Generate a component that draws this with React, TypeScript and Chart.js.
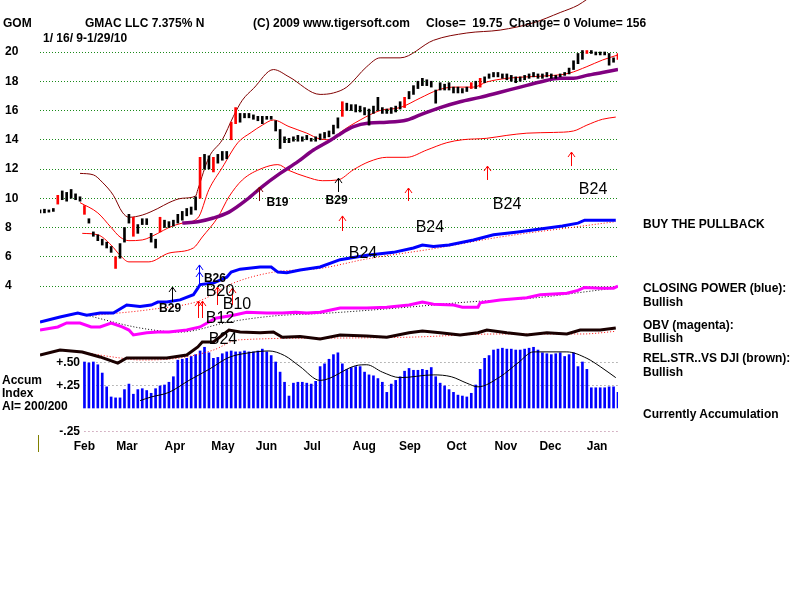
import React, { useEffect, useRef } from "react";
import { Chart, registerables } from "chart.js";

Chart.register(...registerables);

// ---------- data ----------
const BAR_STEP = 2; // trading days per drawn price bar
const LAST_DAY = 260;

const priceHigh = [
  9.2, 9.25, 9.2, 9.3, 10.2, 10.5, 10.4, 10.6, 10.3, 10.1,
  9.5, 8.6, 7.7, 7.5, 7.2, 7.0, 6.7, 6.0, 6.9, 8.0,
  8.9, 8.7, 8.2, 8.6, 8.6, 7.6, 7.2, 8.7, 8.5, 8.4,
  8.5, 8.9, 9.1, 9.3, 9.4, 10.1, 12.8, 13.0, 12.9, 12.8,
  13.0, 13.2, 13.2, 15.2, 16.2, 15.8, 15.8, 15.8, 15.7, 15.6,
  15.6, 15.6, 15.6, 15.3, 14.7, 14.2, 14.1, 14.2, 14.3, 14.2,
  14.3, 14.1, 14.2, 14.4, 14.5, 14.6, 15.0, 15.5, 16.6, 16.5,
  16.4, 16.4, 16.3, 16.2, 16.1, 16.3, 16.9, 16.2, 16.1, 16.2,
  16.3, 16.6, 16.9, 17.3, 17.7, 18.0, 18.2, 18.1, 18.0, 17.4,
  17.9, 17.8, 17.9, 17.6, 17.6, 17.5, 17.6, 17.9, 18.0, 18.2,
  18.3, 18.5, 18.6, 18.6, 18.5, 18.5, 18.4, 18.3, 18.3, 18.4,
  18.5, 18.6, 18.5, 18.5, 18.6, 18.5, 18.4, 18.5, 18.6, 18.9,
  19.4, 19.9, 20.1, 20.1, 20.1, 20.0, 20.0, 20.0, 19.9, 19.6,
  19.9,
];
const priceLow = [
  9.0, 9.0, 9.05, 9.1, 9.6, 9.9, 9.8, 10.0, 9.9, 9.8,
  8.9, 8.3, 7.4, 7.1, 6.8, 6.6, 6.3, 5.2, 5.9, 7.0,
  8.3, 7.4, 7.6, 8.2, 8.2, 7.0, 6.6, 7.7, 8.0, 8.0,
  8.1, 8.3, 8.5, 8.8, 8.9, 9.2, 10.0, 12.0, 12.0, 11.8,
  12.4, 12.6, 12.7, 14.0, 15.1, 15.2, 15.5, 15.5, 15.4, 15.3,
  15.1, 15.4, 15.4, 14.6, 13.4, 13.8, 13.8, 13.9, 13.9, 13.9,
  14.0, 13.9, 13.9, 14.0, 14.1, 14.2, 14.4, 14.8, 15.6, 16.0,
  16.0, 15.9, 15.9, 15.7, 15.0, 15.8, 16.0, 15.8, 15.8, 15.8,
  15.9, 16.1, 16.2, 16.8, 17.1, 17.5, 17.7, 17.7, 17.6, 16.5,
  17.4, 17.4, 17.4, 17.2, 17.2, 17.2, 17.3, 17.5, 17.5, 17.6,
  17.9, 18.2, 18.3, 18.3, 18.2, 18.1, 18.0, 17.9, 18.0, 18.1,
  18.2, 18.3, 18.2, 18.2, 18.3, 18.2, 18.2, 18.3, 18.4, 18.5,
  18.8, 19.2, 19.5, 19.9, 19.9, 19.8, 19.8, 19.8, 19.1, 19.3,
  19.5,
];
const redBarIdx = [4, 10, 17, 21, 27, 36, 39, 43, 44, 68, 82, 97, 99, 123, 130];

const AI_START = 10; // first price-bar index that has an accumulation value
const aiValues = [
  0.50, 0.49, 0.50, 0.47, 0.38, 0.23, 0.12, 0.11, 0.11, 0.20,
  0.26, 0.15, 0.20, 0.21, 0.19, 0.16, 0.21, 0.24, 0.25, 0.28,
  0.34, 0.52, 0.53, 0.54, 0.56, 0.58, 0.62, 0.66, 0.60, 0.54,
  0.55, 0.59, 0.61, 0.62, 0.61, 0.61, 0.62, 0.61, 0.61, 0.62,
  0.64, 0.61, 0.57, 0.50, 0.39, 0.28, 0.13, 0.27, 0.28, 0.28,
  0.27, 0.26, 0.29, 0.45, 0.48, 0.53, 0.58, 0.60, 0.48, 0.42,
  0.44, 0.45, 0.45, 0.39, 0.36, 0.35, 0.32, 0.28, 0.17, 0.26,
  0.30, 0.34, 0.40, 0.43, 0.41, 0.41, 0.42, 0.41, 0.44, 0.34,
  0.27, 0.24, 0.20, 0.17, 0.14, 0.13, 0.12, 0.16, 0.25, 0.42,
  0.54, 0.57, 0.63, 0.64, 0.65, 0.64, 0.64, 0.63, 0.63, 0.64,
  0.65, 0.66, 0.63, 0.60, 0.59, 0.58, 0.59, 0.60, 0.56, 0.58,
  0.60, 0.45, 0.50, 0.42, 0.22, 0.22, 0.22, 0.22, 0.23, 0.23,
  0.17,
];

// [trading day, value]
const upperBand = [[18,11.7],[24,11.6],[28,11.1],[33,10.2],[37,9.05],[40,8.7],[46,8.85],[53,9.3],[58,9.7],[64,10.0],[70,10.15],[71,10.6],[76,12.8],[82,14.0],[87,15.6],[91,16.7],[96,17.5],[105,18.8],[112,18.3],[126,17.1],[132,17.2],[138,17.6],[147,19.0],[153,19.6],[162,19.6],[177,20.8],[192,21.3],[207,21.5],[222,22.0],[234,22.7],[242,23.2],[246,23.6]];
const midBand = [[18,9.7],[26,9.0],[32,8.0],[36,7.35],[40,7.1],[46,7.15],[53,7.6],[58,8.0],[64,8.3],[71,8.65],[76,10.6],[82,12.1],[89,13.8],[95,14.5],[100,15.0],[105,15.35],[112,14.9],[120,14.45],[126,14.05],[131,14.0],[135,14.5],[144,15.35],[153,16.0],[162,16.2],[171,16.85],[179,17.4],[186,17.6],[195,17.6],[201,17.95],[210,18.2],[219,18.3],[231,18.4],[238,18.55],[246,19.0],[253,19.45],[260,19.8]];
const lowerBand = [[19,7.6],[26,7.5],[32,6.8],[36,6.1],[40,5.65],[49,5.65],[58,6.25],[69,6.6],[73,7.35],[80,8.7],[85,10.1],[91,11.25],[100,12.05],[107,12.3],[112,11.9],[120,11.45],[127,11.2],[134,11.25],[141,11.95],[148,12.5],[156,12.8],[165,12.8],[174,13.3],[183,13.8],[190,14.0],[201,14.1],[210,14.3],[219,14.45],[231,14.5],[240,14.6],[246,15.0],[253,15.4],[259,15.55]];
const ma50 = [[64,8.3],[71,8.4],[78,8.65],[85,9.05],[93,9.9],[100,10.8],[108,11.7],[116,12.5],[123,13.3],[131,14.0],[134,14.3],[141,14.9],[148,15.15],[156,15.2],[165,15.35],[171,15.7],[180,16.2],[189,16.6],[198,16.9],[207,17.25],[216,17.6],[225,17.95],[234,18.2],[240,18.2],[246,18.4],[253,18.6],[260,18.8]];
const closingPower = [[0,1.54],[9,1.88],[17,2.15],[21,2.0],[27,2.15],[33,2.15],[39,2.7],[45,2.6],[50,2.7],[53,2.9],[57,2.9],[63,3.05],[69,3.4],[71,3.85],[72,4.1],[78,4.2],[84,4.6],[86,4.95],[90,5.15],[99,5.3],[104,5.3],[107,4.95],[111,4.9],[117,5.1],[126,5.3],[135,5.8],[147,6.1],[159,6.3],[168,6.6],[172,6.8],[177,6.7],[184,6.8],[195,7.15],[204,7.5],[215,7.7],[225,7.9],[235,8.1],[242,8.3],[245,8.5],[253,8.5],[259,8.5]];
const cpAvg = [[25,2.0],[50,2.4],[72,3.0],[87,4.2],[105,4.95],[126,5.2],[147,5.85],[177,6.55],[207,7.35],[244,8.1],[259,8.4]];
const obv = [[0,0.99],[8,1.2],[12,1.47],[18,1.47],[23,1.2],[27,1.2],[32,1.47],[37,1.2],[40,0.99],[42,0.65],[48,0.8],[53,0.85],[58,0.85],[66,0.99],[72,1.2],[79,1.8],[87,2.0],[93,2.2],[102,2.15],[109,2.15],[115,2.2],[120,2.15],[126,2.2],[135,2.5],[147,2.5],[156,2.55],[166,2.7],[172,2.9],[177,2.75],[186,2.7],[190,2.55],[197,2.55],[198,2.85],[207,3.05],[219,3.2],[225,3.4],[237,3.5],[242,3.7],[245,3.9],[252,3.85],[258,3.85],[260,4.0]];
const obvAvg = [[21,2.0],[45,1.13],[63,0.85],[85,1.54],[105,1.95],[130,2.15],[166,2.56],[192,2.9],[222,3.18],[252,3.73],[259,3.86]];
const relStr = [[0,-0.72],[9,-0.38],[19,-0.51],[27,-0.85],[35,-1.27],[39,-0.92],[49,-0.92],[57,-0.92],[66,-0.72],[71,-0.17],[73,0.17],[78,0.17],[85,0.99],[90,0.85],[99,0.8],[105,0.85],[109,0.5],[117,0.55],[126,0.38],[135,0.65],[147,0.58],[156,0.5],[166,0.8],[172,0.92],[180,0.8],[189,0.65],[197,0.8],[201,0.99],[210,0.8],[219,0.65],[228,0.8],[237,0.72],[243,0.99],[252,0.99],[259,1.13]];
const rsAvg = [[18,-0.51],[36,-0.92],[45,-1.06],[63,-0.92],[78,-0.38],[89,0.31],[130,0.44],[166,0.5],[207,0.72],[244,0.72],[259,0.9]];
const aiAvg = [[45,0.08],[50,0.12],[58,0.17],[67,0.3],[76,0.42],[85,0.55],[94,0.6],[103,0.62],[110,0.57],[117,0.45],[126,0.3],[142,0.46],[147,0.47],[154,0.39],[162,0.33],[177,0.36],[185,0.34],[192,0.27],[197,0.23],[207,0.34],[215,0.49],[222,0.61],[237,0.61],[246,0.54],[252,0.45],[259,0.33]];

const monthLabels = ["Feb", "Mar", "Apr", "May", "Jun", "Jul", "Aug", "Sep", "Oct", "Nov", "Dec", "Jan"];
const monthDays = [20, 39.1, 60.7, 82.3, 101.9, 122.4, 145.8, 166.4, 187.4, 209.6, 229.6, 250.6];
const priceTicks = [4, 6, 8, 10, 12, 14, 16, 18, 20];
const aiTicks = [0.5, 0.25, -0.25];
const aiTickLabels = ["+.50", "+.25", "-.25"];

// signal arrows: [day, tail price, tip price, colour]
const signalArrows = [
  [134, 10.43, 11.38, "#000000"],
  [98.5, 9.81, 10.77, "#800000"],
  [136, 7.76, 8.79, "#ff0000"],
  [165.5, 9.81, 10.7, "#ff0000"],
  [201, 11.25, 12.2, "#ff0000"],
  [239, 12.2, 13.16, "#ff0000"],
  [59.4, 2.91, 3.93, "#000000"],
  [71.5, 3.93, 5.44, "#0000ff"],
  [71.5, 3.93, 4.96, "#0000ff"],
  [71, 1.81, 2.97, "#ff0000"],
  [73, 1.81, 2.97, "#ff0000"],
  [79.6, 2.7, 3.93, "#ff0000"],
  [86.4, 2.7, 3.86, "#ff0000"],
];
// signal labels: [text, day, price, large?]
const signalLabels = [
  ["B29", 133.4, 9.88, false],
  ["B19", 106.8, 9.71, false],
  ["B24", 248.8, 10.63, true],
  ["B24", 210.1, 9.61, true],
  ["B24", 175.4, 8.03, true],
  ["B24", 145.3, 6.26, true],
  ["B24", 82.3, 0.38, true],
  ["B20", 81, 3.66, true],
  ["B10", 88.6, 2.77, true],
  ["B12", 81, 1.81, true],
  ["B26", 78.7, 4.55, false],
  ["B29", 58.5, 2.5, false],
];

const headerTexts = [
  ["GOM", 3, 15.5],
  ["GMAC LLC 7.375% N", 85, 15.5],
  ["(C) 2009 www.tigersoft.com", 253, 15.5],
  ["Close=  19.75  Change= 0 Volume= 156", 426, 15.5],
  ["1/ 16/ 9-1/29/10", 43, 30.5],
];
const sideTexts = [
  ["BUY THE PULLBACK", 643, 216.5],
  ["CLOSING POWER (blue):", 643, 280.5],
  ["Bullish", 643, 294.5],
  ["OBV (magenta):", 643, 317.5],
  ["Bullish", 643, 330.5],
  ["REL.STR..VS DJI (brown):", 643, 350.5],
  ["Bullish", 643, 364.5],
  ["Currently Accumulation", 643, 406.5],
  ["Accum", 2, 372.5],
  ["Index", 2, 385.5],
  ["AI= 200/200", 2, 398.5],
];

// ---------- layout ----------
const FONT = '"Liberation Sans", Arial, sans-serif';
const PLOT_LEFT = 40;
const PLOT_RIGHT = 618;
const PLOT_BOTTOM = 438;
const PRICE20_PX = 52;
const PX_PER_DOLLAR = 14.625;
const PRICE_MAX = 20 + PRICE20_PX / PX_PER_DOLLAR;
const PRICE_MIN = 20 - (PLOT_BOTTOM - PRICE20_PX) / PX_PER_DOLLAR;
const AI_ZERO_PX = 408;
const AI_PX_PER_UNIT = 92;
const AI_MAX = AI_ZERO_PX / AI_PX_PER_UNIT;
const AI_MIN = -(PLOT_BOTTOM - AI_ZERO_PX) / AI_PX_PER_UNIT;

const toXY = (pairs: number[][]) => pairs.map(([x, y]) => ({ x, y }));

const line = (data: number[][], color: string, width: number, extra: any = {}) => ({
  type: "line",
  data: toXY(data),
  borderColor: color,
  borderWidth: width,
  pointRadius: 0,
  fill: false,
  yAxisID: "y",
  ...extra,
});

const decorPlugin = {
  id: "decor",
  beforeDatasetsDraw(chart: any) {
    const { ctx, chartArea, scales } = chart;
    const xs = scales.x;
    const ai = scales.yAI;
    ctx.save();
    const xStart = xs.getPixelForValue(AI_START * BAR_STEP);
    ctx.lineWidth = 1;
    ctx.setLineDash([1, 3]);
    aiTicks.forEach((v, i) => {
      const py = Math.round(ai.getPixelForValue(v)) + 0.5;
      ctx.strokeStyle = v < 0 ? "#b07090" : "#777777";
      ctx.beginPath();
      ctx.moveTo(xStart, py);
      ctx.lineTo(chartArea.right, py);
      ctx.stroke();
      ctx.setLineDash([]);
      ctx.fillStyle = "#000";
      ctx.font = `bold 12px ${FONT}`;
      ctx.textAlign = "right";
      ctx.textBaseline = "middle";
      ctx.fillText(aiTickLabels[i], chartArea.left + 40, py);
      ctx.setLineDash([1, 3]);
    });
    ctx.setLineDash([]);
    ctx.strokeStyle = "#808000";
    ctx.beginPath();
    ctx.moveTo(chartArea.left - 1.5, chartArea.bottom - 3);
    ctx.lineTo(chartArea.left - 1.5, chartArea.bottom + 14);
    ctx.stroke();
    ctx.restore();
  },
  afterDatasetsDraw(chart: any) {
    const { ctx, scales } = chart;
    const xs = scales.x;
    const ys = scales.y;
    ctx.save();
    ctx.lineWidth = 1;
    signalArrows.forEach(([d, tail, tip, color]: any) => {
      const px = Math.round(xs.getPixelForValue(d)) + 0.5;
      const p1 = ys.getPixelForValue(tail);
      const p2 = ys.getPixelForValue(tip);
      ctx.strokeStyle = color;
      ctx.beginPath();
      ctx.moveTo(px, p1);
      ctx.lineTo(px, p2);
      ctx.moveTo(px - 3.5, p2 + 5);
      ctx.lineTo(px, p2);
      ctx.lineTo(px + 3.5, p2 + 5);
      ctx.stroke();
    });
    ctx.fillStyle = "#000";
    ctx.textAlign = "center";
    ctx.textBaseline = "middle";
    signalLabels.forEach(([t, d, p, big]: any) => {
      ctx.font = big ? `16px ${FONT}` : `bold 12px ${FONT}`;
      ctx.fillText(t, xs.getPixelForValue(d), ys.getPixelForValue(p) + (big ? 1 : 0.5));
    });
    ctx.restore();
  },
};

export default function App() {
  const ref = useRef<HTMLCanvasElement>(null);

  useEffect(() => {
    const priceBars = {
      type: "bar",
      data: priceLow.map((lo, i) => ({ x: i * BAR_STEP, y: [lo, priceHigh[i]] })),
      backgroundColor: priceLow.map((_, i) => (redBarIdx.includes(i) ? "#ff0000" : "#000000")),
      barThickness: 2,
      grouped: false,
      yAxisID: "y",
    };
    const aiBars = {
      type: "bar",
      data: aiValues.map((v, i) => ({ x: (AI_START + i) * BAR_STEP, y: v })),
      backgroundColor: "#0000ff",
      barThickness: 2,
      grouped: false,
      yAxisID: "yAI",
    };
    const tickFont = { family: FONT, size: 12, weight: "bold" as const };

    const chart = new Chart(ref.current as HTMLCanvasElement, {
      type: "line",
      data: {
        datasets: [
          priceBars,
          line(ma50, "#800080", 3.5, { cubicInterpolationMode: "monotone" }),
          line(midBand, "#ff0000", 1, { cubicInterpolationMode: "monotone" }),
          line(lowerBand, "#ff0000", 1, { cubicInterpolationMode: "monotone" }),
          line(upperBand, "#800000", 1, { cubicInterpolationMode: "monotone" }),
          line(closingPower, "#0000ff", 3),
          line(cpAvg, "#ff0000", 1, { borderDash: [1, 2], cubicInterpolationMode: "monotone" }),
          line(obv, "#ff00ff", 3),
          line(obvAvg, "#000000", 1, { borderDash: [1, 2], cubicInterpolationMode: "monotone" }),
          line(relStr, "#1a0000", 3),
          line(rsAvg, "#ff0000", 1, { borderDash: [1, 2], cubicInterpolationMode: "monotone" }),
          line(aiAvg, "#000000", 1, { yAxisID: "yAI", cubicInterpolationMode: "monotone" }),
          aiBars,
        ] as any,
      },
      options: {
        responsive: false,
        maintainAspectRatio: false,
        animation: false,
        devicePixelRatio: 1,
        events: [],
        layout: { padding: { left: 5, right: 800 - PLOT_RIGHT, top: 0, bottom: 0 } },
        plugins: {
          legend: { display: false },
          tooltip: { enabled: false },
          title: { display: false },
        },
        scales: {
          x: {
            type: "linear",
            min: 0,
            max: LAST_DAY,
            offset: false,
            grid: { display: false, drawTicks: false },
            border: { display: false },
            afterBuildTicks: (s: any) => {
              s.ticks = monthDays.map((v) => ({ value: v }));
            },
            afterFit: (s: any) => {
              s.height = 600 - PLOT_BOTTOM;
              s.paddingLeft = 0;
              s.paddingRight = 0;
            },
            ticks: {
              autoSkip: false,
              maxRotation: 0,
              minRotation: 0,
              padding: 1,
              color: "#000",
              font: tickFont,
              callback: (_v: any, i: number) => monthLabels[i],
            },
          },
          y: {
            type: "linear",
            position: "left",
            min: PRICE_MIN,
            max: PRICE_MAX,
            afterBuildTicks: (s: any) => {
              s.ticks = priceTicks.map((v) => ({ value: v }));
            },
            afterFit: (s: any) => {
              s.width = PLOT_LEFT - 5;
              s.paddingTop = 0;
              s.paddingBottom = 0;
            },
            grid: { color: "#1a8a1a", lineWidth: 1, drawTicks: false },
            border: { display: false, dash: [1, 2] },
            ticks: {
              crossAlign: "far",
              padding: 0,
              color: "#000",
              font: tickFont,
              callback: (v: any) => String(v),
            },
          },
          yAI: {
            type: "linear",
            display: false,
            min: AI_MIN,
            max: AI_MAX,
          },
        },
      } as any,
      plugins: [decorPlugin],
    });
    return () => chart.destroy();
  }, []);

  const textStyle = (x: number, y: number): React.CSSProperties => ({
    position: "absolute",
    left: x,
    top: y,
    font: `bold 12px ${FONT}`,
    lineHeight: "14px",
    whiteSpace: "pre",
    color: "#000",
  });

  return (
    <div
      style={{
        position: "absolute",
        left: 0,
        top: 0,
        width: 800,
        height: 600,
        background: "#ffffff",
        overflow: "hidden",
      }}
    >
      <canvas ref={ref} width={800} height={600} style={{ position: "absolute", left: 0, top: 0 }} />
      {headerTexts.map(([t, x, y], i) => (
        <div key={"h" + i} style={textStyle(x as number, y as number)}>
          {t}
        </div>
      ))}
      {sideTexts.map(([t, x, y], i) => (
        <div key={"s" + i} style={textStyle(x as number, y as number)}>
          {t}
        </div>
      ))}
    </div>
  );
}
